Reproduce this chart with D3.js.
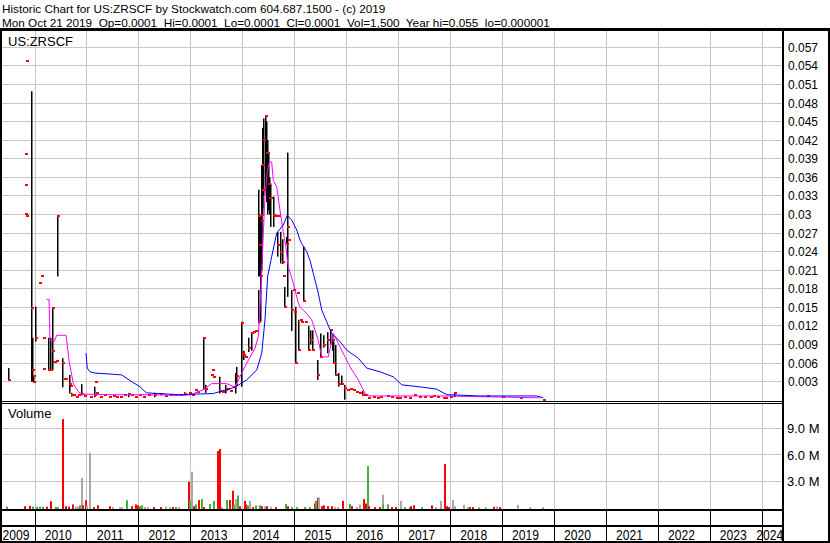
<!DOCTYPE html>
<html><head><meta charset="utf-8">
<script src="https://cdn.jsdelivr.net/npm/d3@7"></script>
<style>
body{margin:0;background:#fff}
svg{display:block}
text{font-family:"Liberation Sans",Arial,sans-serif;fill:#000}
</style>
</head><body>
<svg id="chart" width="830" height="543"></svg>
<script>
// ---------- texts ----------
const titleLine1 = "Historic Chart for US:ZRSCF by Stockwatch.com 604.687.1500 - (c) 2019";
const titleLine2 = "Mon Oct 21 2019  Op=0.0001  Hi=0.0001  Lo=0.0001  Cl=0.0001  Vol=1,500  Year hi=0.055  lo=0.000001";
const symbolLabel = "US:ZRSCF";
const volumeLabel = "Volume";

// ---------- axes ----------
const yearLabels = [2009,2010,2011,2012,2013,2014,2015,2016,2017,2018,2019,2020,2021,2022,2023,2024];
const priceTicks = [0.003,0.006,0.009,0.012,0.015,0.018,0.021,0.024,0.027,0.030,0.033,0.036,0.039,0.042,0.045,0.048,0.051,0.054,0.057];
const priceTickLabels = ["0.003","0.006","0.009","0.012","0.015","0.018","0.021","0.024","0.027","0.03","0.033","0.036","0.039","0.042","0.045","0.048","0.051","0.054","0.057"];
const volumeTicks = [3,6,9];
const volumeTickLabels = ["3.0 M","6.0 M","9.0 M"];

// ---------- price bars (decimal year, high, low, close) ----------
const barYear = [2009.486,2009.800,2009.805,2009.815,2009.827,2009.835,2009.930,2009.940,2009.955,2009.967,
 2010.000,2010.083,2010.121,2010.148,2010.155,2010.245,2010.265,2010.290,2010.322,2010.333,
 2010.345,2010.370,2010.400,2010.418,2010.525,2010.560,2010.585,2010.650,2010.672,2010.700,
 2010.740,2010.780,2010.820,2010.890,2010.950,2011.050,2011.142,2011.160,2011.170,2011.250,
 2011.330,2011.420,2011.500,2011.560,2011.640,2011.720,2011.800,2011.850,2011.920,2012.000,
 2012.080,2012.180,2012.300,2012.400,2012.500,2012.600,2012.700,2012.790,2012.870,2012.960,
 2013.020,2013.080,2013.120,2013.240,2013.280,2013.380,2013.403,2013.433,2013.549,2013.600,
 2013.650,2013.700,2013.760,2013.819,2013.850,2013.880,2013.961,2013.980,2014.000,2014.040,
 2014.110,2014.160,2014.200,2014.240,2014.285,2014.300,2014.315,2014.333,2014.345,2014.355,
 2014.366,2014.380,2014.400,2014.429,2014.445,2014.462,2014.480,2014.500,2014.525,2014.577,
 2014.600,2014.630,2014.654,2014.670,2014.720,2014.750,2014.770,2014.800,2014.833,2014.845,
 2014.870,2014.930,2014.960,2014.980,2015.007,2015.040,2015.071,2015.103,2015.130,2015.167,
 2015.200,2015.260,2015.300,2015.340,2015.436,2015.490,2015.546,2015.620,2015.681,2015.710,
 2015.744,2015.777,2015.840,2015.900,2015.956,2016.002,2016.066,2016.120,2016.180,2016.240,
 2016.300,2016.355,2016.418,2016.500,2016.580,2016.650,2016.770,2016.850,2016.960,2017.000,
 2017.100,2017.200,2017.290,2017.400,2017.500,2017.600,2017.670,2017.750,2017.860,2017.900,
 2017.990,2018.068,2018.700,2019.000,2019.340,2019.790];
const barHigh = [0.0052,0.0397,0.0347,0.0301,0.0548,0.0298,0.0499,0.0101,0.0040,0.0040,
 0.0151,0.0190,0.0200,0.0100,0.0050,0.0101,0.0049,0.0101,0.0149,0.0080,
 0.0062,0.0062,0.0063,0.0298,0.0068,0.0035,0.0035,0.0041,0.0023,0.0012,
 0.0008,0.0006,0.0009,0.0026,0.0007,0.0006,0.0022,0.0030,0.0012,0.0006,
 0.0008,0.0005,0.0007,0.0006,0.0006,0.0008,0.0012,0.0009,0.0006,0.0008,
 0.0005,0.0009,0.0012,0.0010,0.0007,0.0009,0.0008,0.0009,0.0013,0.0012,
 0.0008,0.0016,0.0014,0.0100,0.0025,0.0041,0.0049,0.0037,0.0038,0.0014,
 0.0025,0.0019,0.0015,0.0022,0.0044,0.0054,0.0127,0.0076,0.0080,0.0070,
 0.0101,0.0110,0.0111,0.0112,0.0178,0.0340,0.0300,0.0299,0.0380,0.0320,
 0.0410,0.0440,0.0455,0.0460,0.0450,0.0420,0.0400,0.0360,0.0350,0.0329,
 0.0297,0.0297,0.0272,0.0297,0.0272,0.0260,0.0200,0.0183,0.0264,0.0400,
 0.0259,0.0178,0.0178,0.0143,0.0151,0.0174,0.0130,0.0130,0.0127,0.0248,
 0.0127,0.0120,0.0113,0.0113,0.0065,0.0108,0.0105,0.0110,0.0113,0.0105,
 0.0095,0.0089,0.0044,0.0040,0.0025,0.0017,0.0019,0.0017,0.0014,0.0011,
 0.0015,0.0009,0.0004,0.0005,0.0004,0.0006,0.0007,0.0005,0.0004,0.0003,
 0.0006,0.0004,0.0008,0.0005,0.0006,0.0005,0.0007,0.0006,0.0004,0.0003,
 0.0006,0.0011,0.0007,0.0006,0.0004,0.0001];
const barLow = [0.0033,0.0397,0.0347,0.0301,0.0548,0.0298,0.0030,0.0030,0.0030,0.0040,
 0.0095,0.0190,0.0200,0.0100,0.0050,0.0049,0.0049,0.0049,0.0049,0.0080,
 0.0062,0.0062,0.0063,0.0200,0.0021,0.0035,0.0035,0.0011,0.0023,0.0006,
 0.0008,0.0006,0.0009,0.0008,0.0007,0.0006,0.0005,0.0030,0.0012,0.0006,
 0.0008,0.0005,0.0007,0.0006,0.0006,0.0008,0.0005,0.0009,0.0006,0.0008,
 0.0005,0.0009,0.0005,0.0010,0.0007,0.0009,0.0008,0.0009,0.0008,0.0012,
 0.0008,0.0016,0.0014,0.0017,0.0012,0.0041,0.0049,0.0037,0.0011,0.0014,
 0.0011,0.0019,0.0015,0.0022,0.0011,0.0027,0.0022,0.0076,0.0065,0.0070,
 0.0078,0.0080,0.0111,0.0112,0.0124,0.0200,0.0200,0.0127,0.0220,0.0210,
 0.0300,0.0310,0.0330,0.0340,0.0320,0.0300,0.0307,0.0300,0.0280,0.0280,
 0.0297,0.0297,0.0232,0.0297,0.0221,0.0220,0.0200,0.0151,0.0253,0.0167,
 0.0259,0.0112,0.0178,0.0143,0.0060,0.0174,0.0081,0.0130,0.0127,0.0159,
 0.0127,0.0081,0.0090,0.0081,0.0033,0.0070,0.0085,0.0076,0.0090,0.0080,
 0.0060,0.0041,0.0022,0.0025,0.0001,0.0017,0.0019,0.0017,0.0014,0.0011,
 0.0008,0.0009,0.0004,0.0005,0.0004,0.0006,0.0007,0.0005,0.0004,0.0003,
 0.0006,0.0004,0.0008,0.0005,0.0006,0.0005,0.0007,0.0006,0.0004,0.0003,
 0.0006,0.0005,0.0007,0.0006,0.0004,0.0001];
const barClose = [0.0033,0.0397,0.0347,0.0301,0.0548,0.0298,0.0149,0.0049,0.0030,0.0040,
 0.0100,0.0190,0.0200,0.0100,0.0050,0.0049,0.0049,0.0049,0.0149,0.0080,
 0.0062,0.0062,0.0063,0.0298,0.0060,0.0035,0.0035,0.0026,0.0023,0.0008,
 0.0008,0.0006,0.0009,0.0010,0.0007,0.0006,0.0008,0.0030,0.0012,0.0006,
 0.0008,0.0005,0.0007,0.0006,0.0006,0.0008,0.0010,0.0009,0.0006,0.0008,
 0.0005,0.0009,0.0008,0.0010,0.0007,0.0009,0.0008,0.0009,0.0010,0.0012,
 0.0008,0.0016,0.0014,0.0100,0.0018,0.0041,0.0049,0.0037,0.0015,0.0014,
 0.0016,0.0019,0.0015,0.0022,0.0025,0.0040,0.0125,0.0076,0.0073,0.0070,
 0.0085,0.0108,0.0111,0.0112,0.0127,0.0297,0.0250,0.0200,0.0300,0.0290,
 0.0340,0.0380,0.0420,0.0459,0.0399,0.0399,0.0350,0.0326,0.0326,0.0300,
 0.0297,0.0297,0.0250,0.0297,0.0240,0.0224,0.0200,0.0151,0.0253,0.0280,
 0.0259,0.0146,0.0178,0.0143,0.0060,0.0174,0.0081,0.0130,0.0127,0.0160,
 0.0127,0.0081,0.0097,0.0081,0.0041,0.0070,0.0089,0.0097,0.0113,0.0097,
 0.0060,0.0041,0.0027,0.0027,0.0020,0.0017,0.0019,0.0017,0.0014,0.0011,
 0.0009,0.0009,0.0004,0.0005,0.0004,0.0006,0.0007,0.0005,0.0004,0.0003,
 0.0006,0.0004,0.0008,0.0005,0.0006,0.0005,0.0007,0.0006,0.0004,0.0003,
 0.0006,0.0011,0.0007,0.0006,0.0004,0.0001];

// ---------- short moving average (magenta) ----------
const maShortYear = [2010.225,2010.270,2010.289,2010.330,2010.370,2010.418,2010.597,2010.660,2010.738,2010.834,
 2010.899,2011.500,2012.200,2012.792,2013.000,2013.241,2013.403,2013.691,2013.851,2013.980,
 2014.077,2014.237,2014.300,2014.333,2014.366,2014.397,2014.429,2014.474,2014.512,2014.558,
 2014.589,2014.654,2014.718,2014.781,2014.830,2014.877,2014.974,2015.071,2015.103,2015.232,
 2015.328,2015.455,2015.521,2015.648,2015.744,2015.840,2015.970,2016.066,2016.226,2016.355,
 2016.451,2017.928,2018.500,2019.725];
const maShortValue = [0.0163,0.0163,0.0097,0.0096,0.0095,0.0105,0.0105,0.0062,0.0027,0.0014,
 0.0010,0.0009,0.0009,0.0008,0.0009,0.0017,0.0027,0.0027,0.0021,0.0044,
 0.0060,0.0084,0.0103,0.0151,0.0205,0.0270,0.0329,0.0369,0.0385,0.0385,
 0.0355,0.0345,0.0307,0.0272,0.0248,0.0216,0.0189,0.0157,0.0151,0.0140,
 0.0130,0.0097,0.0070,0.0070,0.0108,0.0092,0.0070,0.0054,0.0033,0.0011,
 0.0007,0.0007,0.0006,0.0004];

// ---------- long moving average (blue) ----------
const maLongYear = [2010.982,2011.007,2011.059,2011.155,2011.508,2011.670,2011.862,2012.022,2012.118,2012.151,
 2012.792,2013.433,2013.851,2014.077,2014.270,2014.366,2014.429,2014.480,2014.558,2014.654,
 2014.781,2014.858,2014.943,2015.040,2015.103,2015.136,2015.232,2015.296,2015.359,2015.455,
 2015.521,2015.617,2015.713,2015.873,2016.002,2016.226,2016.388,2016.644,2016.900,2017.062,
 2017.477,2017.735,2017.928,2018.569,2019.661,2019.789];
const maLongValue = [0.0076,0.0052,0.0046,0.0044,0.0042,0.0041,0.0030,0.0022,0.0014,0.0012,
 0.0009,0.0011,0.0021,0.0033,0.0049,0.0076,0.0130,0.0200,0.0232,0.0270,
 0.0283,0.0299,0.0291,0.0275,0.0259,0.0253,0.0240,0.0226,0.0205,0.0173,
 0.0146,0.0127,0.0108,0.0095,0.0081,0.0068,0.0052,0.0046,0.0038,0.0025,
 0.0021,0.0018,0.0009,0.0007,0.0007,0.0004];

// ---------- volume (decimal year, millions, direction u/d/n) ----------
const volYear = [2009.455,2009.810,2009.900,2009.960,2010.030,2010.100,2010.160,2010.225,2010.300,2010.400,
 2010.440,2010.533,2010.600,2010.660,2010.726,2010.780,2010.820,2010.867,2010.900,2010.930,
 2010.980,2011.010,2011.059,2011.130,2011.207,2011.444,2011.500,2011.630,2011.680,2011.766,
 2011.860,2011.940,2011.990,2012.030,2012.070,2012.120,2012.170,2012.300,2012.430,2012.520,
 2012.600,2012.660,2012.720,2012.780,2012.965,2012.985,2013.018,2013.060,2013.110,2013.158,
 2013.210,2013.250,2013.370,2013.440,2013.530,2013.563,2013.600,2013.690,2013.755,2013.807,
 2013.840,2013.870,2013.900,2013.950,2014.040,2014.070,2014.100,2014.140,2014.200,2014.260,
 2014.330,2014.380,2014.420,2014.460,2014.550,2014.640,2014.830,2014.880,2014.950,2015.050,
 2015.200,2015.300,2015.390,2015.420,2015.455,2015.475,2015.520,2015.560,2015.650,2015.720,
 2015.780,2015.840,2015.940,2016.066,2016.100,2016.200,2016.260,2016.335,2016.374,2016.410,
 2016.440,2016.550,2016.640,2016.695,2016.710,2016.790,2016.880,2016.950,2017.050,2017.120,
 2017.220,2017.250,2017.300,2017.450,2017.640,2017.730,2017.810,2017.895,2017.930,2017.980,
 2018.040,2018.080,2018.270,2018.340,2018.380,2018.440,2018.550,2018.680,2018.840,2018.890,
 2018.950,2019.295,2019.540,2019.776];
const volValue = [0.15,0.2,0.25,0.15,0.15,0.15,0.15,0.15,0.76,0.1,
 0.1,10.0,0.2,0.15,0.4,0.15,0.15,0.3,3.4,0.3,
 0.87,0.3,6.22,0.1,0.3,0.2,0.1,0.1,0.1,0.87,
 0.2,0.4,0.3,0.2,0.3,0.1,0.1,0.1,0.1,0.15,
 0.1,0.1,0.1,0.1,2.96,0.8,4.08,0.2,0.4,0.9,
 1.0,0.1,0.45,0.8,6.41,6.64,0.1,0.9,0.9,1.95,
 0.4,1.0,1.4,0.2,0.8,0.4,0.3,0.8,0.1,0.3,
 0.3,0.2,0.2,0.2,0.1,0.1,0.45,0.2,0.1,0.1,
 0.1,0.1,0.5,0.8,1.14,1.2,0.2,0.3,0.2,0.2,
 0.1,0.1,0.8,0.45,0.2,0.1,0.4,1.0,0.5,4.72,
 0.2,0.1,0.1,1.5,0.4,0.4,0.1,0.1,0.8,0.1,
 0.1,0.2,0.3,0.1,0.3,0.1,0.8,4.95,0.2,0.1,
 0.9,0.2,0.35,0.1,0.1,0.1,0.05,0.05,0.15,0.15,
 0.1,0.35,0.05,0.05];
const volDir = ["u","d","d","u","u","u","u","d","d","u",
 "u","d","d","d","d","n","n","u","n","d",
 "d","n","n","d","d","d","n","n","n","u",
 "d","d","d","u","u","n","n","d","d","n",
 "n","d","u","n","d","u","n","d","u","d",
 "u","d","u","u","d","d","n","u","d","d",
 "u","n","u","d","d","d","u","n","d","u",
 "u","d","n","d","n","d","u","d","u","u",
 "u","u","d","u","d","n","d","d","d","d",
 "n","n","d","u","d","n","n","d","d","u",
 "d","d","d","n","u","u","d","d","n","u",
 "u","d","d","u","d","n","n","d","d","d",
 "n","n","n","n","d","d","u","u","d","n",
 "d","n","u","u"];

// ---------- drawing ----------
const svg = d3.select("#chart");
const W = 830;
const plotL = 2, plotR = 782;
const priceTop = 31, priceBottom = 401;
const volTop = 404, volBottom = 509;

const x = d3.scaleLinear().domain([2010, 2024]).range([35, 762]);
const yP = d3.scaleLinear().domain([0, 0.057]).range([400.3, 47.3]);
const yV = d3.scaleLinear().domain([0, 9]).range([508, 428]);

const gridColor = "#c8c8c8";
const dirColor = {u: "#3cb43c", d: "#ff0000", n: "#a8a8a8"};

svg.append("rect").attr("width", W).attr("height", 543).attr("fill", "#fff");

// titles
svg.append("text").attr("x", 2).attr("y", 12.5).attr("font-size", 11.75).text(titleLine1);
svg.append("text").attr("x", 2).attr("y", 26.5).attr("font-size", 11.75)
  .style("white-space", "pre").text(titleLine2);

const gridYears = d3.range(2010, 2025);
const px = v => Math.floor(v) + 0.5;

// price grid
const gPrice = svg.append("g");
gPrice.selectAll("line.h").data(priceTicks).join("line")
  .attr("x1", plotL).attr("x2", plotR)
  .attr("y1", d => px(yP(d))).attr("y2", d => px(yP(d)))
  .attr("stroke", gridColor);
gPrice.selectAll("line.v").data(gridYears).join("line")
  .attr("x1", d => px(x(d))).attr("x2", d => px(x(d)))
  .attr("y1", priceTop).attr("y2", priceBottom)
  .attr("stroke", gridColor);

// volume grid
const gVol = svg.append("g");
gVol.selectAll("line.h").data(volumeTicks).join("line")
  .attr("x1", plotL).attr("x2", plotR)
  .attr("y1", d => px(yV(d))).attr("y2", d => px(yV(d)))
  .attr("stroke", gridColor);
gVol.selectAll("line.v").data(gridYears).join("line")
  .attr("x1", d => px(x(d))).attr("x2", d => px(x(d)))
  .attr("y1", volTop).attr("y2", volBottom)
  .attr("stroke", gridColor);

// clip paths
const defs = svg.append("defs");
defs.append("clipPath").attr("id", "clipP").append("rect")
  .attr("x", plotL).attr("y", priceTop).attr("width", plotR - plotL).attr("height", priceBottom - priceTop);
defs.append("clipPath").attr("id", "clipV").append("rect")
  .attr("x", plotL).attr("y", volTop).attr("width", plotR - plotL).attr("height", volBottom - volTop);

// volume bars
const vols = volYear.map((t, i) => ({t, v: volValue[i], d: volDir[i]}));
svg.append("g").attr("clip-path", "url(#clipV)")
  .selectAll("rect").data(vols).join("rect")
  .attr("x", d => Math.round(x(d.t)) - 1)
  .attr("width", 2)
  .attr("y", d => yV(d.v))
  .attr("height", d => volBottom - yV(d.v))
  .attr("fill", d => dirColor[d.d]);

// price bars
const bars = barYear.map((t, i) => ({t, h: barHigh[i], l: barLow[i], c: barClose[i]}));
const gBars = svg.append("g").attr("clip-path", "url(#clipP)");
gBars.selectAll("rect.hl").data(bars.filter(d => d.h > d.l)).join("rect")
  .attr("x", d => Math.round(x(d.t)))
  .attr("width", 1.5)
  .attr("y", d => yP(d.h))
  .attr("height", d => yP(d.l) - yP(d.h))
  .attr("fill", "#000");
gBars.selectAll("rect.cl").data(bars).join("rect")
  .attr("x", d => Math.round(x(d.t)))
  .attr("width", 3)
  .attr("y", d => Math.round(yP(d.c)) - 1)
  .attr("height", 2)
  .attr("fill", "#ff0000");

// moving averages
const lineGen = d3.line().x(d => x(d[0])).y(d => yP(d[1]));
const gLines = svg.append("g").attr("clip-path", "url(#clipP)");
gLines.append("path").datum(maShortYear.map((t, i) => [t, maShortValue[i]]))
  .attr("d", lineGen).attr("fill", "none").attr("stroke", "#ff00ff").attr("stroke-width", 1);
gLines.append("path").datum(maLongYear.map((t, i) => [t, maLongValue[i]]))
  .attr("d", lineGen).attr("fill", "none").attr("stroke", "#0000ff").attr("stroke-width", 1);

// panel labels
svg.append("text").attr("x", 8).attr("y", 46).attr("font-size", 13).text(symbolLabel);
svg.append("text").attr("x", 8).attr("y", 418).attr("font-size", 13).text(volumeLabel);

// frame
const frame = svg.append("g").attr("fill", "#000");
frame.append("rect").attr("x", 0).attr("y", 28).attr("width", W).attr("height", 3);       // top
frame.append("rect").attr("x", 0).attr("y", 28).attr("width", 2).attr("height", 515);     // left
frame.append("rect").attr("x", 828).attr("y", 28).attr("width", 2).attr("height", 515);   // right outer
frame.append("rect").attr("x", 782).attr("y", 28).attr("width", 2).attr("height", 515);   // axis
frame.append("rect").attr("x", 0).attr("y", 401).attr("width", 783).attr("height", 1);    // price bottom
frame.append("rect").attr("x", 0).attr("y", 403).attr("width", 783).attr("height", 1);
frame.append("rect").attr("x", 0).attr("y", 509).attr("width", 783).attr("height", 2);    // volume bottom
frame.append("rect").attr("x", 0).attr("y", 525).attr("width", 783).attr("height", 2);    // row sep
frame.append("rect").attr("x", 0).attr("y", 541).attr("width", W).attr("height", 2);      // bottom

// year separators in bottom rows
svg.append("g").selectAll("line").data(gridYears).join("line")
  .attr("x1", d => px(x(d))).attr("x2", d => px(x(d)))
  .attr("y1", 511).attr("y2", 541).attr("stroke", "#000");

// year labels
const gYears = svg.append("g");
yearLabels.forEach(yr => {
  const a = Math.max(plotL, x(yr)), b = Math.min(783, x(yr + 1));
  let start = (a + b) / 2 - 2.7 - 13.5;
  start = Math.max(2.5, Math.min(757, start));
  gYears.append("text").attr("x", start).attr("y", 540)
    .attr("font-size", 15).attr("textLength", 27).attr("lengthAdjust", "spacingAndGlyphs")
    .text(yr);
});

// price axis labels
svg.append("g").selectAll("text").data(priceTicks).join("text")
  .attr("x", 788).attr("y", d => yP(d) + 4.5).attr("font-size", 12)
  .text((d, i) => priceTickLabels[i]);

// volume axis labels
svg.append("g").selectAll("text").data(volumeTicks).join("text")
  .attr("x", 787).attr("y", d => yV(d) + 5).attr("font-size", 13)
  .text((d, i) => volumeTickLabels[i]);
</script>
</body></html>
